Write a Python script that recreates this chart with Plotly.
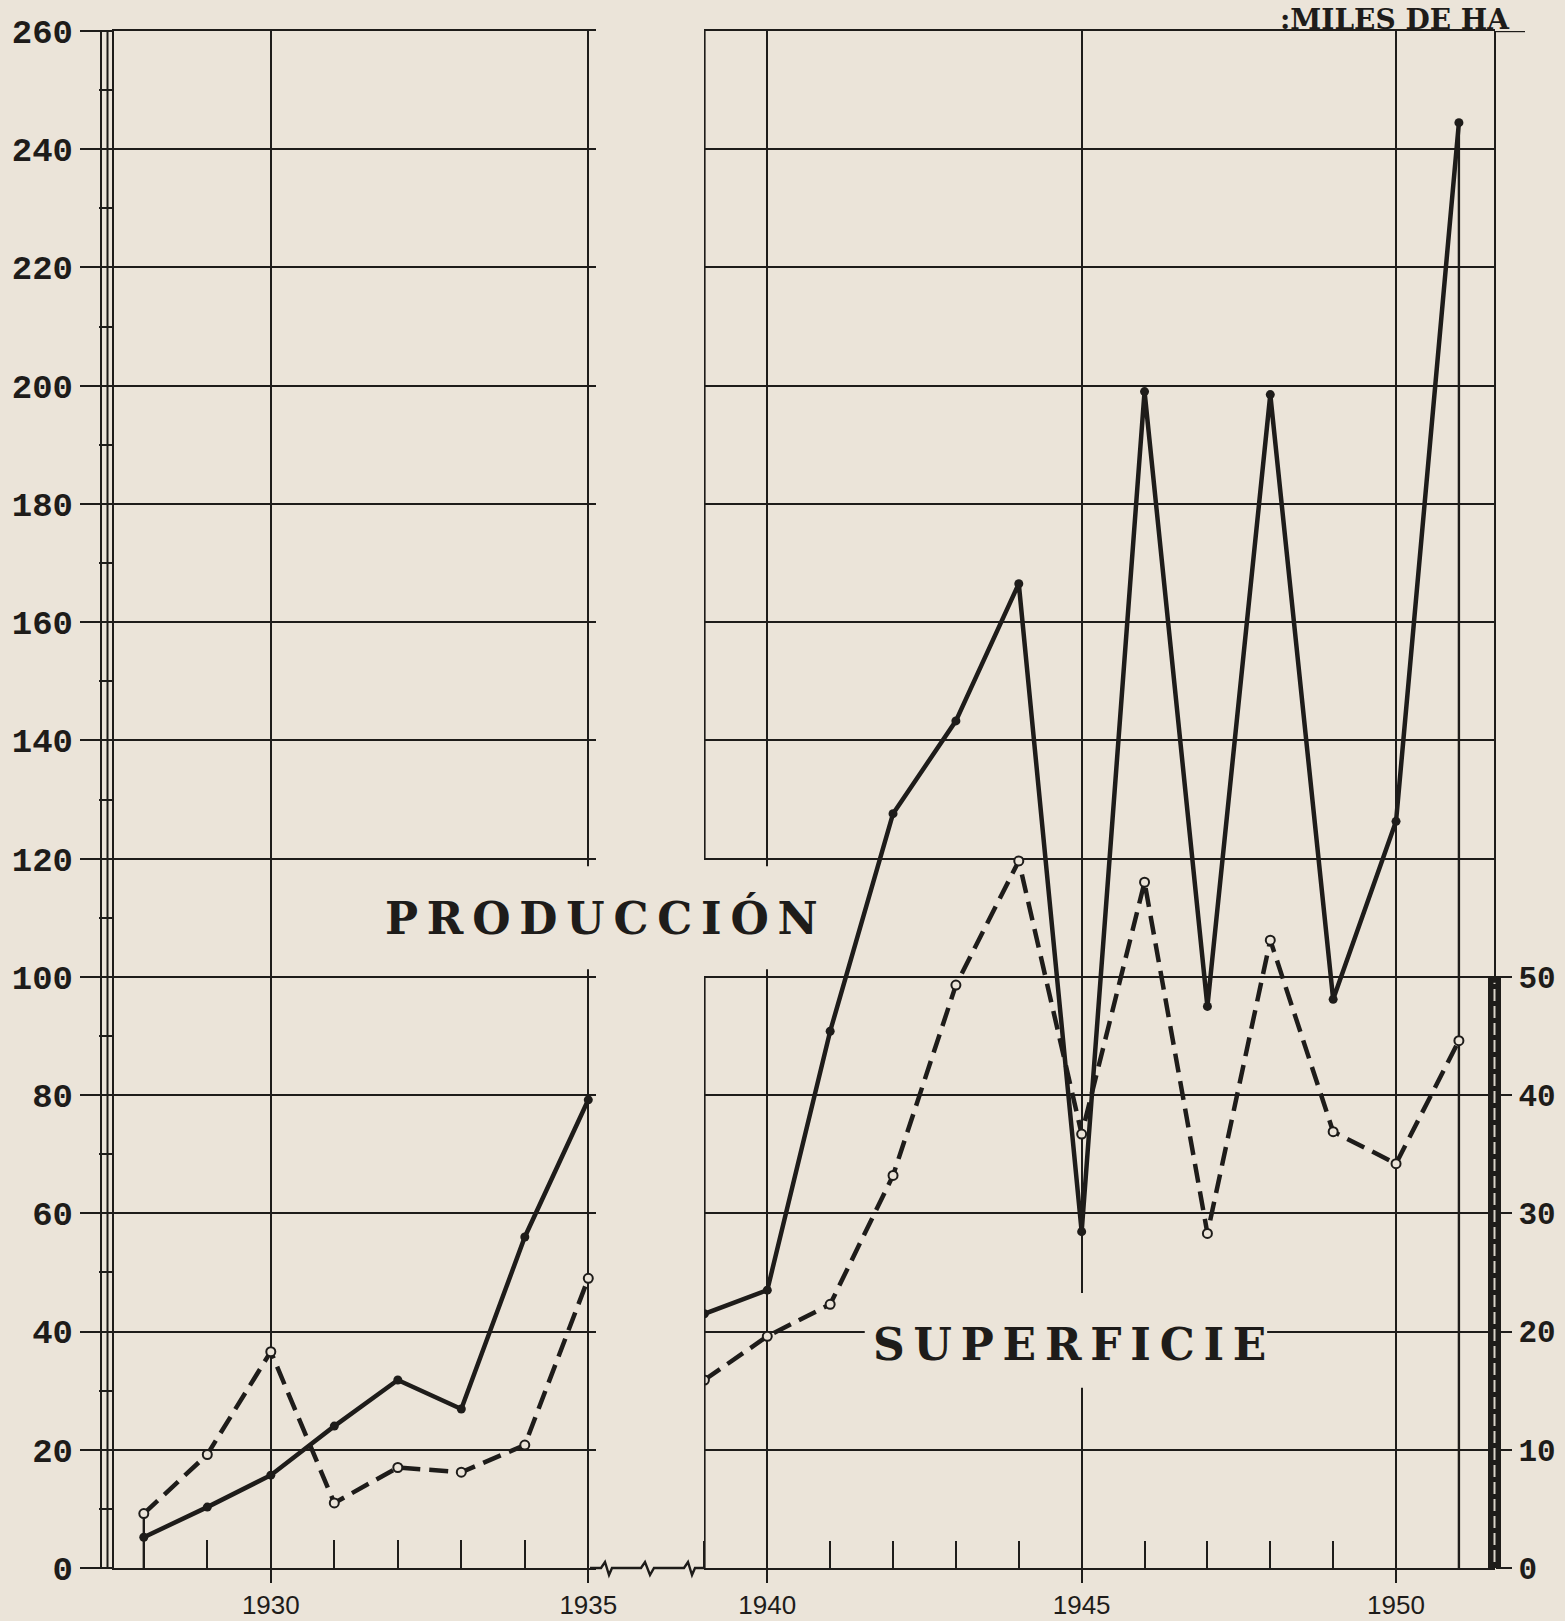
import plotly.graph_objects as go

# ---------------- data ----------------
years_left = [1928, 1929, 1930, 1931, 1932, 1933, 1934, 1935]
years_right = [1939, 1940, 1941, 1942, 1943, 1944, 1945, 1946, 1947, 1948, 1949, 1950, 1951]

produccion_left = [5.2, 10.3, 15.7, 24.0, 31.8, 26.9, 56.0, 79.2]
produccion_right = [43.0, 47.0, 90.8, 127.6, 143.3, 166.5, 56.9, 199.0, 95.0, 198.5, 96.2, 126.3, 244.5]

# superficie in miles de ha (right axis)
superficie_left = [4.6, 9.6, 18.3, 5.5, 8.5, 8.1, 10.4, 24.5]
superficie_right = [15.9, 19.6, 22.3, 33.2, 49.3, 59.8, 36.7, 58.0, 28.3, 53.1, 36.9, 34.2, 44.6]

y_ticks_left = [0, 20, 40, 60, 80, 100, 120, 140, 160, 180, 200, 220, 240, 260]
y_minor_left = [10, 30, 50, 70, 90, 110, 130, 150, 170, 190, 210, 230, 250]
y_ticks_right = [0, 10, 20, 30, 40, 50]
x_ticks_left = [1930, 1935]
x_ticks_right = [1940, 1945, 1950]

label_prod = "PRODUCCIÓN"
label_sup = "SUPERFICIE"
label_units = ":MILES DE HA"

# ---------------- style ----------------
W, H = 1565, 1621
BG = "#ebe4d9"
INK = "#1e1c1a"
GW = 2.4


def fx(px):
    return px / W


def fy(py):
    return 1 - py / H


def spaced(s):
    return "\u2009".join(list(s))


NUM_FONT = dict(family="Liberation Mono, DejaVu Sans Mono", size=34, color=INK, weight="bold")
NUM_FONT_R = dict(family="Liberation Mono, DejaVu Sans Mono", size=31, color=INK, weight="bold")
YEAR_FONT = dict(family="Liberation Sans Narrow, Liberation Sans, Roboto", size=26, color=INK)
BIG_FONT = dict(family="DejaVu Serif", size=44, color=INK, weight="bold")

fig = go.Figure()

line_sol = dict(color=INK, width=4.5)
line_dash = dict(color=INK, width=4.5, dash="19px,9px")
mk_sol = dict(symbol="circle", size=9, color=INK)
mk_open = dict(symbol="circle", size=9, color=BG, line=dict(color=INK, width=2))

# drop lines (1928 superficie, 1951 produccion)
fig.add_trace(go.Scatter(x=[years_left[0], years_left[0]], y=[0, superficie_left[0]],
                         xaxis="x", yaxis="y2", mode="lines",
                         line=dict(color=INK, width=GW), hoverinfo="skip"))
fig.add_trace(go.Scatter(x=[years_right[-1], years_right[-1]], y=[0, produccion_right[-1]],
                         xaxis="x2", yaxis="y", mode="lines",
                         line=dict(color=INK, width=GW), hoverinfo="skip"))

fig.add_trace(go.Scatter(x=years_left, y=produccion_left, xaxis="x", yaxis="y",
                         mode="lines+markers", line=line_sol, marker=mk_sol, name="Producción"))
fig.add_trace(go.Scatter(x=years_right, y=produccion_right, xaxis="x2", yaxis="y",
                         mode="lines+markers", line=line_sol, marker=mk_sol, name="Producción"))
fig.add_trace(go.Scatter(x=years_left, y=superficie_left, xaxis="x", yaxis="y2",
                         mode="lines+markers", line=line_dash, marker=mk_open, name="Superficie"))
fig.add_trace(go.Scatter(x=years_right, y=superficie_right, xaxis="x2", yaxis="y2",
                         mode="lines+markers", line=line_dash, marker=mk_open, name="Superficie"))

# panel geometry (pixels)
L_LEFT, L_RIGHT = 114, 596
R_LEFT, R_RIGHT = 704, 1495
Y_BOT, Y_TOP = 1568, 31
L_1930, L_PER = 270.8, 63.5
R_1940, R_PER = 767.0, 62.9

xl_range = [1930 + (L_LEFT - L_1930) / L_PER, 1930 + (L_RIGHT - L_1930) / L_PER]
xr_range = [1940 + (R_LEFT - R_1940) / R_PER - 0.005, 1940 + (R_RIGHT - R_1940) / R_PER]

common_x = dict(ticks="outside", ticklen=13, tickwidth=GW, tickcolor=INK,
                showgrid=True, gridcolor=INK, gridwidth=GW,
                showline=True, linecolor=INK, linewidth=GW, mirror=True,
                zeroline=False, tickfont=YEAR_FONT, anchor="y", fixedrange=True,
                automargin=False)

fig.update_layout(
    width=W, height=H,
    margin=dict(l=0, r=0, t=0, b=0, autoexpand=False),
    paper_bgcolor=BG, plot_bgcolor="rgba(0,0,0,0)",
    showlegend=False,
    xaxis=dict(domain=[fx(L_LEFT), fx(L_RIGHT)], range=xl_range,
               tickvals=x_ticks_left, ticktext=[str(v) for v in x_ticks_left],
               minor=dict(tickmode="array", tickvals=years_left, ticks="inside",
                          ticklen=28, tickwidth=GW, tickcolor=INK, showgrid=False),
               **common_x),
    xaxis2=dict(domain=[fx(R_LEFT), fx(R_RIGHT)], range=xr_range,
                tickvals=x_ticks_right, ticktext=[str(v) for v in x_ticks_right],
                minor=dict(tickmode="array", tickvals=years_right, ticks="inside",
                           ticklen=27, tickwidth=GW, tickcolor=INK, showgrid=False),
                **common_x),
    yaxis=dict(domain=[fy(Y_BOT), fy(Y_TOP)], range=[0, 260], anchor="x",
               tickvals=y_ticks_left, ticktext=[str(v) for v in y_ticks_left],
               ticks="outside", ticklen=32, tickwidth=GW, tickcolor=INK,
               showgrid=True, gridcolor=INK, gridwidth=GW,
               showline=True, linecolor=INK, linewidth=GW, zeroline=False,
               tickfont=NUM_FONT, fixedrange=True, automargin=False,
               minor=dict(tickmode="array", tickvals=y_minor_left, ticks="outside",
                          ticklen=13, tickwidth=2, tickcolor=INK, showgrid=False)),
    yaxis2=dict(overlaying="y", side="right", anchor="free", position=fx(R_RIGHT),
                range=[0, 130], tickvals=y_ticks_right, ticktext=[str(v) for v in y_ticks_right],
                ticks="outside", ticklen=16, tickwidth=GW, tickcolor=INK,
                showgrid=False, showline=True, linecolor=INK, linewidth=GW, zeroline=False,
                tickfont=NUM_FONT_R, fixedrange=True, automargin=False),
)

shapes = []
# extra left axis lines (triple rule)
for px in (101, 107.5):
    shapes.append(dict(type="line", xref="paper", yref="y", x0=fx(px), x1=fx(px), y0=0, y1=260,
                       line=dict(color=INK, width=2)))
# left border of right panel (1939), broken behind the label
for (a, b) in ((0, 100), (120, 260)):
    shapes.append(dict(type="line", xref="x2", yref="y", x0=years_right[0], x1=years_right[0],
                       y0=a, y1=b, line=dict(color=INK, width=GW)))
# masks (above grid, below traces)
shapes.append(dict(type="rect", layer="between", xref="x", yref="y", x0=1934.85, x1=1935.1,
                   y0=101.3, y1=118.7, fillcolor=BG, line=dict(width=0)))
shapes.append(dict(type="rect", layer="between", xref="x2", yref="y", x0=1939.9, x1=1940.1,
                   y0=101.3, y1=118.7, fillcolor=BG, line=dict(width=0)))
shapes.append(dict(type="rect", layer="between", xref="x2", yref="y", x0=1941.55, x1=1947.95,
                   y0=30.5, y1=46.5, fillcolor=BG, line=dict(width=0)))
# thick right axis band for the superficie scale
shapes.append(dict(type="rect", xref="paper", yref="y2", x0=fx(1488), x1=fx(1501), y0=0, y1=50,
                   fillcolor=INK, line=dict(width=0)))
shapes.append(dict(type="line", xref="paper", yref="y2", x0=fx(1494.5), x1=fx(1494.5), y0=0.5, y1=49.5,
                   line=dict(color="#d8d2c8", width=2, dash="12px,5px")))
# top border overshoot of the right panel
shapes.append(dict(type="line", xref="paper", yref="y", x0=fx(R_RIGHT), x1=fx(1525), y0=260, y1=260,
                   line=dict(color=INK, width=GW)))
# axis break zig-zag
pts = [(590, 0), (601, 0), (605, -6), (609, 7), (612, 0), (641, 0), (645, -6), (650, 7), (654, 0),
       (684, 0), (688, -6), (692, 7), (695, 0), (704, 0)]
path = "M " + " L ".join(f"{fx(px):.5f},{fy(Y_BOT + dy):.5f}" for px, dy in pts)
shapes.append(dict(type="path", xref="paper", yref="paper", path=path, line=dict(color=INK, width=GW)))
fig.update_layout(shapes=shapes)

fig.add_annotation(x=fx(601), y=fy(918), xref="paper", yref="paper", text=spaced(label_prod),
                   showarrow=False, font=BIG_FONT, xanchor="center", yanchor="middle")
fig.add_annotation(x=fx(1069), y=fy(1344), xref="paper", yref="paper", text=spaced(label_sup),
                   showarrow=False, font=BIG_FONT, xanchor="center", yanchor="middle")
fig.add_annotation(x=fx(1278), y=fy(1), xref="paper", yref="paper", text=label_units,
                   showarrow=False, font=dict(family="DejaVu Serif", size=28, color=INK, weight="bold"),
                   xanchor="left", yanchor="top")

fig.write_html("out.html", config={"displayModeBar": False},
               post_script="document.body.style.margin='0';document.body.style.background='#ebe4d9';")
